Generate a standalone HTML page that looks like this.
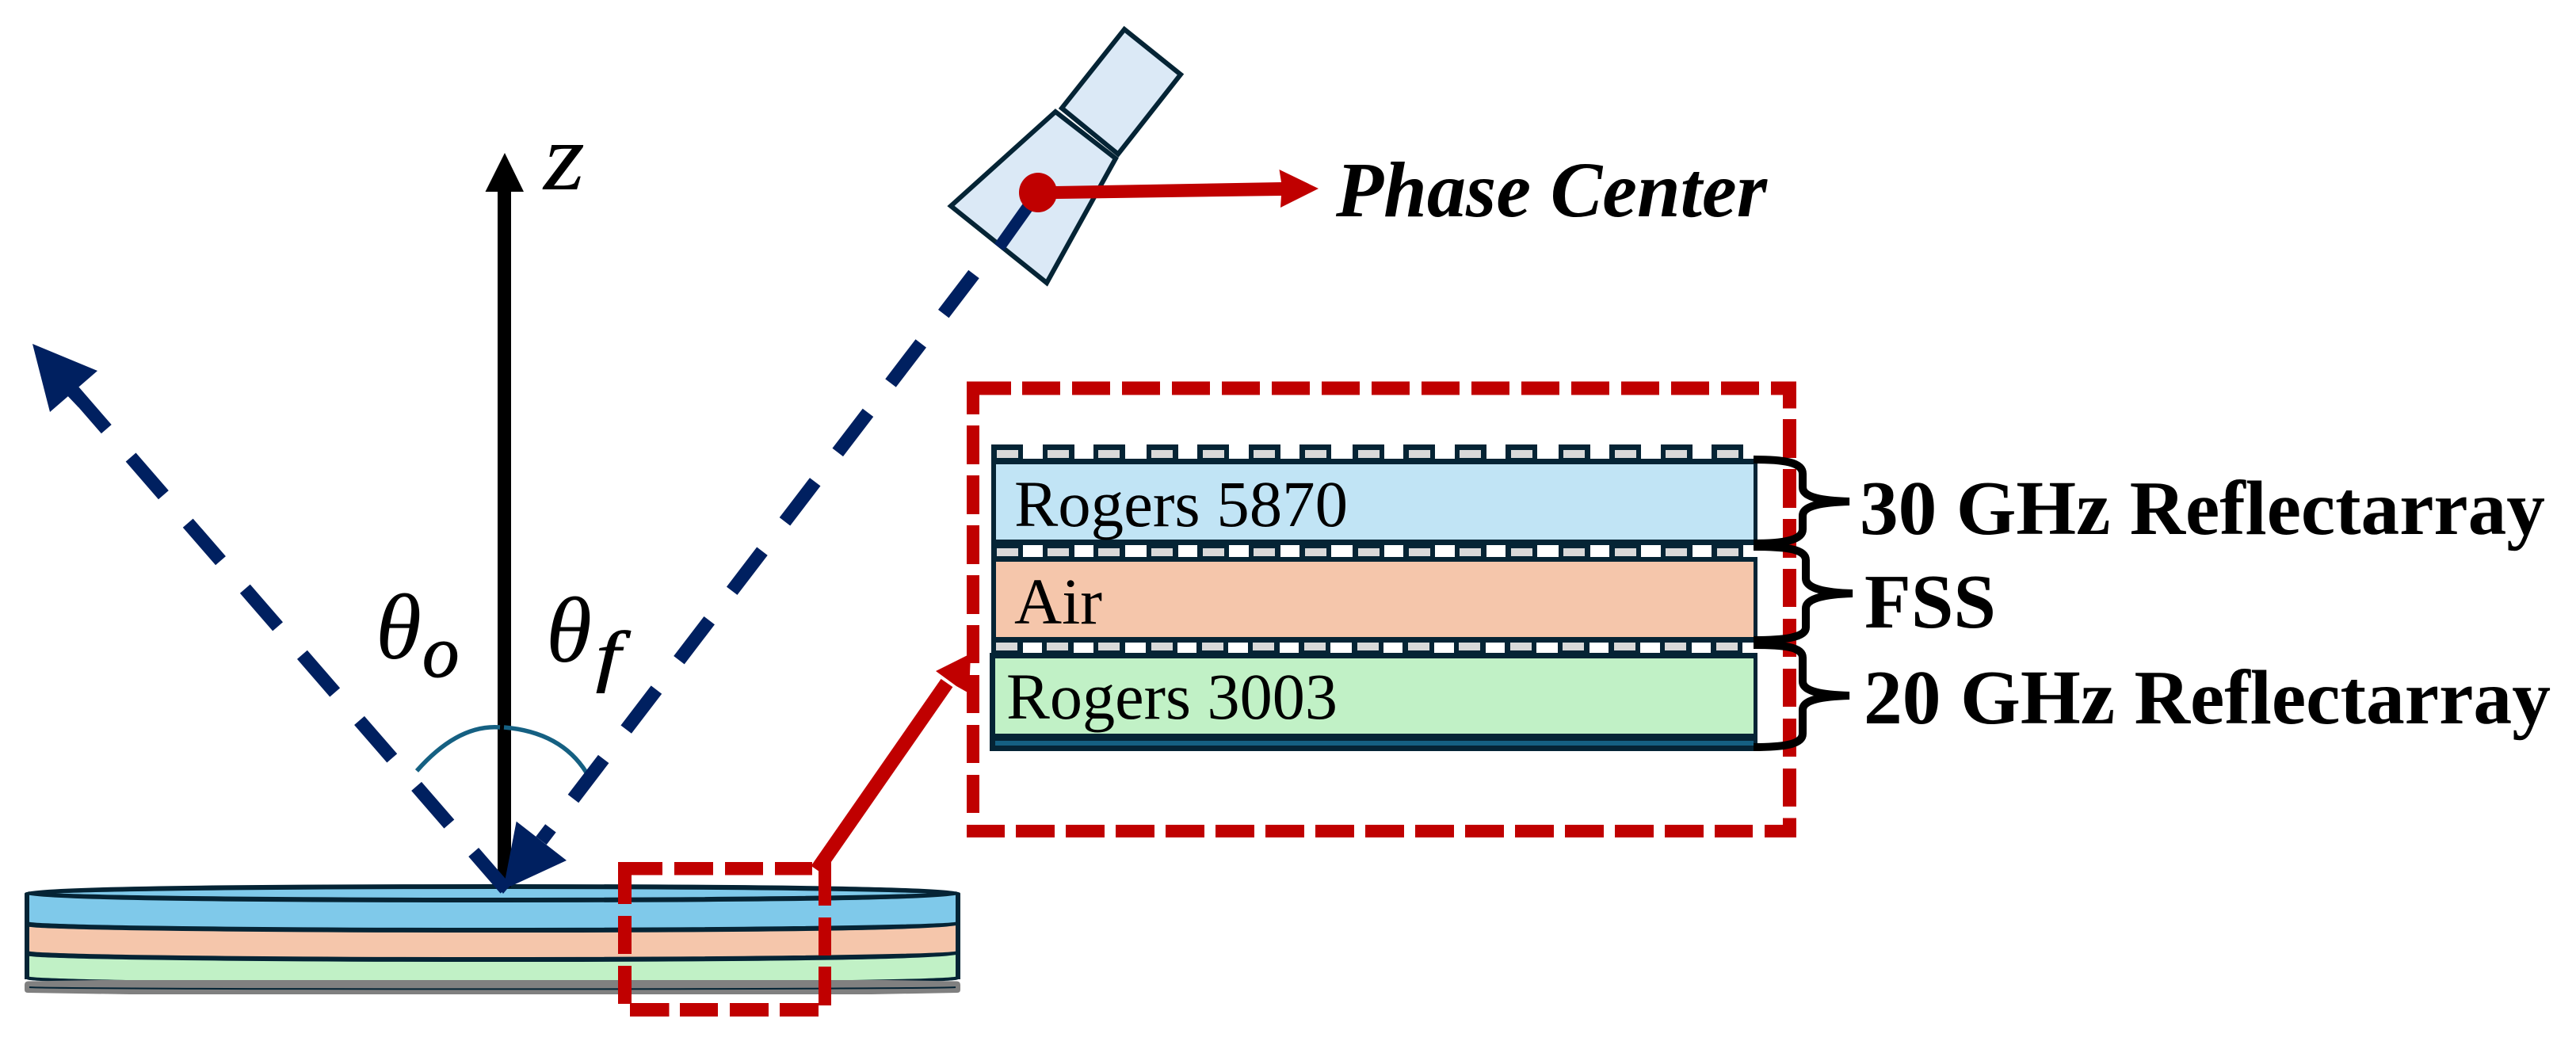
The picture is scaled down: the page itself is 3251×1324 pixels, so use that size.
<!DOCTYPE html>
<html><head><meta charset="utf-8"><style>
html,body{margin:0;padding:0;background:#fff;width:3251px;height:1324px;overflow:hidden}
svg{display:block}
text{font-family:"Liberation Serif",serif;fill:#000}
</style></head><body>
<svg width="3251" height="1324" viewBox="0 0 3251 1324" xmlns="http://www.w3.org/2000/svg">
<rect width="3251" height="1324" fill="#fff"/>

<!-- disc -->
<path d="M34 1128 L34 1236 A587.5 8 0 0 0 1209 1236 L1209 1128 Z" fill="#c1f1c6"/>
<path d="M34 1128 L34 1203 A587.5 8 0 0 0 1209 1203 L1209 1128 Z" fill="#f5c6ab"/>
<path d="M34 1128 L34 1166 A587.5 8 0 0 0 1209 1166 L1209 1128 Z" fill="#7fc9ea"/>
<path d="M34 1128 A587.5 8.5 0 0 1 1209 1128 Z" fill="#7fc9ea"/>
<g fill="none" stroke="#052435" stroke-width="6">
<path d="M34 1128 L34 1236 M1209 1128 L1209 1236"/>
<ellipse cx="621.5" cy="1127.5" rx="587.5" ry="8.5"/>
<path d="M34 1166 A587.5 8 0 0 0 1209 1166"/>
<path d="M34 1203 A587.5 8 0 0 0 1209 1203"/>
<path d="M34 1234 A587.5 8 0 0 0 1209 1234" stroke-width="4"/>
</g>
<path d="M35 1238.500 L125 1237 L1118 1237 L1208 1238.500 Q1212 1239 1212 1243 L1212 1249 Q1212 1253 1208 1253 L1100 1255 L164 1255 L35 1253 Q31 1253 31 1249 L31 1243 Q31 1239 35 1238.500 Z" fill="#808080"/>
<path d="M37 1246 A585 2.500 0 0 0 1206 1246" fill="none" stroke="#052435" stroke-width="2"/>

<!-- z axis -->
<rect x="628" y="240" width="17" height="880" fill="#000"/>
<polygon points="637,193 661,242 612.500,242" fill="#000"/>
<text x="686" y="239" font-size="122" font-style="italic" textLength="52" lengthAdjust="spacingAndGlyphs">z</text>

<!-- theta labels -->
<text x="474" y="831" font-size="118" font-style="italic">θ</text>
<text x="533" y="854" font-size="93" font-style="italic" stroke="#000" stroke-width="1">o</text>
<text x="689" y="835" font-size="118" font-style="italic">θ</text>
<text x="752" y="856" font-size="86" font-style="italic" stroke="#000" stroke-width="1" textLength="31" lengthAdjust="spacingAndGlyphs">f</text>

<!-- arc -->
<path d="M526 973 Q578 914 631 918" fill="none" stroke="#156082" stroke-width="5.500"/>
<path d="M636 918 Q708 924 740 975" fill="none" stroke="#156082" stroke-width="5.500"/>

<!-- reflected beam -->
<line x1="93" y1="494" x2="638" y2="1122" stroke="#002060" stroke-width="17" stroke-dasharray="63 47"/>
<polygon points="41,434 123,468 63,520" fill="#002060"/>
<line x1="85" y1="487" x2="105" y2="508" stroke="#002060" stroke-width="17"/>
<polygon points="626,1116 635,1128 645,1116" fill="#002060"/>

<!-- incident beam -->
<line x1="1229" y1="346" x2="683" y2="1061" stroke="#002060" stroke-width="17" stroke-dasharray="63 47"/>
<polygon points="635,1123 651.700,1036.700 715,1086" fill="#002060"/>

<!-- horn -->
<g fill="#dbe9f6" stroke="#052435" stroke-width="6" stroke-linejoin="miter">
<polygon points="1419,37 1490,94 1411,194.500 1340,136.500"/>
<polygon points="1332,141 1408,200 1321,357 1200,260"/>
</g>
<line x1="1310" y1="243" x2="1261" y2="312" stroke="#002060" stroke-width="15"/>
<ellipse cx="1310" cy="243" rx="24" ry="25" fill="#c00000"/>
<polygon points="1332,235 1617,230 1614.500,214 1664,238 1616,262 1617,247 1332,251" fill="#c00000"/>
<text x="1686" y="273" font-size="100" font-weight="bold" font-style="italic" textLength="544" lengthAdjust="spacingAndGlyphs">Phase Center</text>

<!-- small red dashed box -->
<g fill="#c00000">
<rect x="780" y="1088" width="56" height="16.500"/>
<rect x="851" y="1088" width="49" height="16.500"/>
<rect x="915" y="1088" width="48" height="16.500"/>
<rect x="978" y="1088" width="47" height="16.500"/>
<rect x="795" y="1266" width="49.500" height="17"/>
<rect x="858" y="1266" width="48" height="17"/>
<rect x="921" y="1266" width="49" height="17"/>
<rect x="984" y="1266" width="49" height="17"/>
<rect x="780" y="1088" width="17" height="53"/>
<rect x="780" y="1156" width="17" height="48"/>
<rect x="780" y="1219" width="17" height="48"/>
<rect x="1033" y="1088" width="16" height="55"/>
<rect x="1033" y="1158" width="16" height="48"/>
<rect x="1033" y="1220" width="16" height="49"/>
</g>

<!-- red connector -->
<line x1="1031" y1="1098" x2="1195" y2="862" stroke="#c00000" stroke-width="18"/>
<polygon points="1181,847 1225,825 1223,875 1207,866" fill="#c00000"/>

<!-- big red dashed box -->
<g fill="#c00000">
<rect x="1220" y="481.500" width="56" height="17"/>
<rect x="1290" y="481.500" width="48" height="17"/><rect x="1353" y="481.500" width="48" height="17"/><rect x="1416" y="481.500" width="48" height="17"/><rect x="1479" y="481.500" width="48" height="17"/><rect x="1542" y="481.500" width="48" height="17"/><rect x="1605" y="481.500" width="48" height="17"/><rect x="1668" y="481.500" width="48" height="17"/><rect x="1731" y="481.500" width="48" height="17"/><rect x="1794" y="481.500" width="48" height="17"/><rect x="1857" y="481.500" width="48" height="17"/><rect x="1920" y="481.500" width="48" height="17"/><rect x="1983" y="481.500" width="48" height="17"/><rect x="2046" y="481.500" width="48" height="17"/><rect x="2109" y="481.500" width="48" height="17"/><rect x="2172" y="481.500" width="48" height="17"/>
<rect x="2235" y="481.500" width="32" height="17"/>
<rect x="1220" y="1041" width="48" height="16"/>
<rect x="1282" y="1041" width="49" height="16"/><rect x="1345" y="1041" width="49" height="16"/><rect x="1408" y="1041" width="49" height="16"/><rect x="1471" y="1041" width="49" height="16"/><rect x="1534" y="1041" width="49" height="16"/><rect x="1597" y="1041" width="49" height="16"/><rect x="1660" y="1041" width="49" height="16"/><rect x="1723" y="1041" width="49" height="16"/><rect x="1786" y="1041" width="49" height="16"/><rect x="1849" y="1041" width="49" height="16"/><rect x="1912" y="1041" width="49" height="16"/><rect x="1975" y="1041" width="49" height="16"/><rect x="2038" y="1041" width="49" height="16"/><rect x="2101" y="1041" width="49" height="16"/><rect x="2164" y="1041" width="48" height="16"/>
<rect x="2227" y="1041" width="40" height="16"/>
<rect x="1220" y="481.500" width="16" height="41.500"/>
<rect x="1220" y="537" width="16" height="49"/><rect x="1220" y="600" width="16" height="49"/><rect x="1220" y="663" width="16" height="49"/><rect x="1220" y="726" width="16" height="49"/><rect x="1220" y="789" width="16" height="48"/><rect x="1220" y="852" width="16" height="48"/><rect x="1220" y="915" width="16" height="48"/><rect x="1220" y="978" width="16" height="48"/>
<rect x="2250" y="481.500" width="17" height="34"/>
<rect x="2250" y="529" width="17" height="49"/><rect x="2250" y="592" width="17" height="49"/><rect x="2250" y="655" width="17" height="49"/><rect x="2250" y="718" width="17" height="48"/><rect x="2250" y="781" width="17" height="48"/><rect x="2250" y="844" width="17" height="48"/><rect x="2250" y="907" width="17" height="48"/><rect x="2250" y="970" width="17" height="48"/>
<rect x="2250" y="1032.500" width="17" height="24.500"/>
</g>

<!-- layered stack -->
<g fill="#052435">
<rect x="1251" y="579" width="967" height="7"/>
<rect x="1251" y="579" width="6" height="230"/>
<rect x="2213" y="579" width="5" height="102"/>
<rect x="1251" y="681" width="967" height="7"/>
<rect x="1251" y="703" width="967" height="6"/>
<rect x="2213" y="703" width="5" height="108"/>
<rect x="1251" y="804" width="967" height="7"/>
<rect x="1249" y="824" width="969" height="124"/>
</g>
<rect x="1257" y="586" width="956" height="95" fill="#c1e4f5"/>
<rect x="1257" y="709" width="956" height="95" fill="#f5c6ab"/>
<rect x="1256" y="831" width="957" height="95" fill="#c1f1c6"/>
<rect x="1256" y="935" width="957" height="6" fill="#156082"/>

<!-- patches -->
<g id="patches">
<g fill="#052435">
<rect x="1251" y="561" width="40" height="20"/><rect x="1316" y="561" width="40" height="20"/><rect x="1380" y="561" width="40" height="20"/><rect x="1447" y="561" width="40" height="20"/><rect x="1511" y="561" width="40" height="20"/><rect x="1576" y="561" width="40" height="20"/><rect x="1640" y="561" width="40" height="20"/><rect x="1707" y="561" width="40" height="20"/><rect x="1771" y="561" width="40" height="20"/><rect x="1836" y="561" width="40" height="20"/><rect x="1900" y="561" width="40" height="20"/><rect x="1967" y="561" width="40" height="20"/><rect x="2031" y="561" width="40" height="20"/><rect x="2096" y="561" width="40" height="20"/><rect x="2160" y="561" width="40" height="20"/>
<rect x="1251" y="686" width="40" height="20"/><rect x="1316" y="686" width="40" height="20"/><rect x="1380" y="686" width="40" height="20"/><rect x="1447" y="686" width="40" height="20"/><rect x="1511" y="686" width="40" height="20"/><rect x="1576" y="686" width="40" height="20"/><rect x="1640" y="686" width="40" height="20"/><rect x="1707" y="686" width="40" height="20"/><rect x="1771" y="686" width="40" height="20"/><rect x="1836" y="686" width="40" height="20"/><rect x="1900" y="686" width="40" height="20"/><rect x="1967" y="686" width="40" height="20"/><rect x="2031" y="686" width="40" height="20"/><rect x="2096" y="686" width="40" height="20"/><rect x="2160" y="686" width="40" height="20"/>
<rect x="1251" y="809" width="40" height="17"/><rect x="1315" y="809" width="40" height="17"/><rect x="1380" y="809" width="40" height="17"/><rect x="1446" y="809" width="40" height="17"/><rect x="1510" y="809" width="40" height="17"/><rect x="1575" y="809" width="40" height="17"/><rect x="1639" y="809" width="40" height="17"/><rect x="1706" y="809" width="40" height="17"/><rect x="1770" y="809" width="40" height="17"/><rect x="1835" y="809" width="40" height="17"/><rect x="1899" y="809" width="40" height="17"/><rect x="1966" y="809" width="40" height="17"/><rect x="2030" y="809" width="40" height="17"/><rect x="2095" y="809" width="40" height="17"/><rect x="2159" y="809" width="40" height="17"/>
</g>
<g fill="#d9d9d9">
<rect x="1258" y="568" width="27" height="10"/><rect x="1322" y="568" width="27" height="10"/><rect x="1386" y="568" width="27" height="10"/><rect x="1453" y="568" width="27" height="10"/><rect x="1518" y="568" width="27" height="10"/><rect x="1582" y="568" width="27" height="10"/><rect x="1647" y="568" width="27" height="10"/><rect x="1714" y="568" width="27" height="10"/><rect x="1778" y="568" width="27" height="10"/><rect x="1842" y="568" width="27" height="10"/><rect x="1907" y="568" width="27" height="10"/><rect x="1973" y="568" width="27" height="10"/><rect x="2038" y="568" width="27" height="10"/><rect x="2102" y="568" width="27" height="10"/><rect x="2167" y="568" width="27" height="10"/>
<rect x="1258" y="692" width="27" height="10"/><rect x="1322" y="692" width="27" height="10"/><rect x="1386" y="692" width="27" height="10"/><rect x="1453" y="692" width="27" height="10"/><rect x="1518" y="692" width="27" height="10"/><rect x="1582" y="692" width="27" height="10"/><rect x="1647" y="692" width="27" height="10"/><rect x="1714" y="692" width="27" height="10"/><rect x="1778" y="692" width="27" height="10"/><rect x="1842" y="692" width="27" height="10"/><rect x="1907" y="692" width="27" height="10"/><rect x="1973" y="692" width="27" height="10"/><rect x="2038" y="692" width="27" height="10"/><rect x="2102" y="692" width="27" height="10"/><rect x="2167" y="692" width="27" height="10"/>
<rect x="1257" y="811" width="27" height="10"/><rect x="1321" y="811" width="27" height="10"/><rect x="1386" y="811" width="27" height="10"/><rect x="1453" y="811" width="27" height="10"/><rect x="1517" y="811" width="27" height="10"/><rect x="1581" y="811" width="27" height="10"/><rect x="1646" y="811" width="27" height="10"/><rect x="1713" y="811" width="27" height="10"/><rect x="1777" y="811" width="27" height="10"/><rect x="1841" y="811" width="27" height="10"/><rect x="1906" y="811" width="27" height="10"/><rect x="1972" y="811" width="27" height="10"/><rect x="2037" y="811" width="27" height="10"/><rect x="2101" y="811" width="27" height="10"/><rect x="2166" y="811" width="27" height="10"/>
</g>
</g>

<text x="1280" y="664" font-size="83" textLength="421" lengthAdjust="spacingAndGlyphs">Rogers 5870</text>
<text x="1280" y="787" font-size="83" textLength="111" lengthAdjust="spacingAndGlyphs">Air</text>
<text x="1270" y="907" font-size="83" textLength="418" lengthAdjust="spacingAndGlyphs">Rogers 3003</text>

<!-- braces -->
<g fill="none" stroke="#000" stroke-width="10">
<path d="M2213 580 C2250 580 2275 583 2275 598 L2275 615 C2275 628 2300 632 2334 633 C2300 634 2275 638 2275 651 L2275 668 C2275 682 2250 686 2213 686"/>
<path d="M2213 690 C2250 690 2279 692 2279 707 L2279 730 C2279 743 2304 748 2338 749 C2304 750 2279 755 2279 768 L2279 792 C2279 805 2250 808 2213 808"/>
<path d="M2213 814 C2250 814 2275 816 2275 830 L2275 860 C2275 873 2300 877 2334 878 C2300 879 2275 883 2275 896 L2275 926 C2275 940 2250 943 2213 943"/>
</g>

<text x="2347" y="674" font-size="98" font-weight="bold" textLength="865" lengthAdjust="spacingAndGlyphs">30 GHz Reflectarray</text>
<text x="2353" y="792" font-size="98" font-weight="bold" textLength="166" lengthAdjust="spacingAndGlyphs">FSS</text>
<text x="2352" y="913" font-size="98" font-weight="bold" textLength="867" lengthAdjust="spacingAndGlyphs">20 GHz Reflectarray</text>
</svg>
</body></html>
